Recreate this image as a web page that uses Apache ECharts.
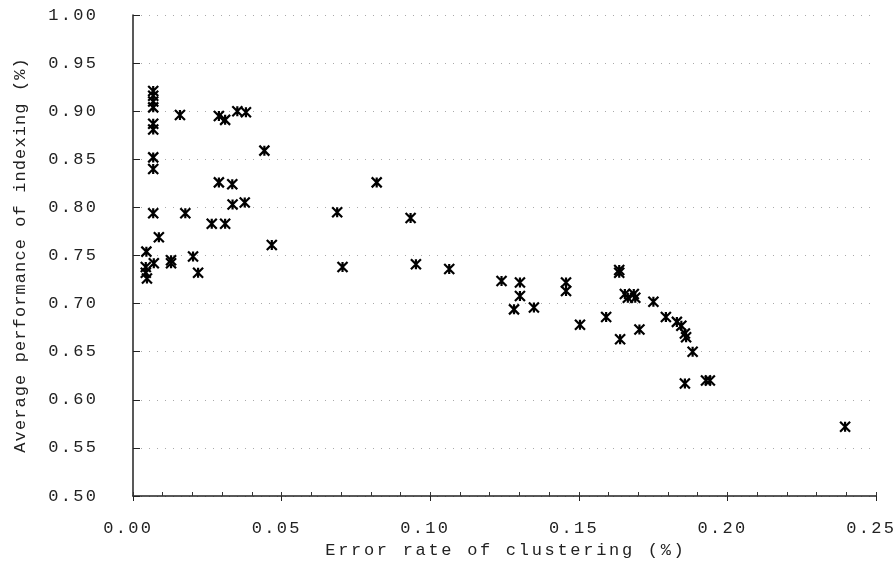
<!DOCTYPE html>
<html><head><meta charset="utf-8">
<script src="https://cdn.jsdelivr.net/npm/echarts@6/dist/echarts.min.js"></script>
<style>html,body{margin:0;padding:0;background:#fff}#c{width:893px;height:561px}</style>
</head><body><div id="c"></div>
<script>
const xTitle = 'Error rate of clustering (%)';
const yTitle = 'Average performance of indexing (%)';
const errorRate = [
 0.0068,0.0068,0.0068,0.0068,0.0068,0.0068,0.0068,0.0068,0.0068,0.0176,
 0.0158,0.0289,0.0310,0.0351,0.0380,0.0442,0.0289,0.0334,0.0335,0.0376,
 0.0265,0.0310,0.0087,0.0467,0.0045,0.0202,0.0128,0.0128,0.0070,0.0043,
 0.0043,0.0047,0.0219,0.0820,0.0687,0.0934,0.0705,0.0952,0.1064,0.1240,
 0.1302,0.1302,0.1282,0.1349,0.1457,0.1457,0.1504,0.1636,0.1636,0.1655,
 0.1685,0.1665,0.1690,0.1751,0.1592,0.1793,0.1830,0.1845,0.1857,0.1861,
 0.1883,0.1639,0.1704,0.1857,0.1928,0.1941,0.2396
];
const performance = [
 0.921,0.916,0.910,0.904,0.887,0.881,0.852,0.840,0.794,0.794,
 0.896,0.895,0.891,0.900,0.899,0.859,0.826,0.824,0.803,0.805,
 0.783,0.783,0.769,0.761,0.754,0.749,0.745,0.742,0.742,0.738,
 0.732,0.726,0.732,0.826,0.795,0.789,0.738,0.741,0.736,0.7235,
 0.722,0.708,0.694,0.696,0.722,0.713,0.678,0.735,0.732,0.710,
 0.710,0.706,0.706,0.702,0.686,0.686,0.681,0.677,0.669,0.665,
 0.650,0.663,0.673,0.617,0.620,0.620,0.572
];
const points = errorRate.map((x, i) => [x, performance[i]]);

function spaced(s, tag) { return s.split('').map(ch => '{' + tag + '|' + ch + '}').join(''); }
const font = 'Liberation Mono';
const richLab = { c: { fontFamily: font, fontSize: 17, color: '#222', width: 12.5, align: 'center' } };
const richXLab = { c: { fontFamily: font, fontSize: 17, color: '#222', width: 12.5, align: 'center' },
                   s: { fontFamily: font, fontSize: 17, width: 12 } };
const richX = { c: { fontFamily: font, fontSize: 17, color: '#222', width: 12.9, align: 'center' } };
const richY = { c: { fontFamily: font, fontSize: 17, color: '#222', width: 11.3, align: 'center' } };

const chart = echarts.init(document.getElementById('c'), null, { renderer: 'canvas' });
chart.setOption({
  animation: false,
  backgroundColor: '#fff',
  grid: { left: 133, right: 17, top: 15, bottom: 65, containLabel: false, outerBoundsMode: 'none' },
  xAxis: [{
    type: 'value', min: 0, max: 0.25, interval: 0.05,
    name: spaced(xTitle, 'c'), nameLocation: 'middle', nameGap: 39,
    nameTextStyle: { rich: richX },
    axisLine: { show: true, lineStyle: { color: '#222', width: 1.5 } },
    axisTick: { show: true, inside: false, length: 5, lineStyle: { color: '#222' } },
    axisLabel: { margin: 24, formatter: v => spaced(v.toFixed(2), 'c') + '{s| }', rich: richXLab },
    splitLine: { show: false }
  }, {
    type: 'value', min: 0, max: 0.25, interval: 0.01, position: 'bottom',
    axisLine: { show: false },
    axisTick: { show: true, inside: true, length: 4, lineStyle: { color: '#333' } },
    axisLabel: { show: false },
    splitLine: { show: false }
  }],
  yAxis: {
    type: 'value', min: 0.5, max: 1.0, interval: 0.05,
    name: spaced(yTitle, 'c'), nameLocation: 'middle', nameGap: 104, nameRotate: 90,
    nameTextStyle: { rich: richY },
    axisLine: { show: true, lineStyle: { color: '#222', width: 1.5 } },
    axisTick: { show: true, inside: true, length: 7, lineStyle: { color: '#222' } },
    axisLabel: { margin: 36, formatter: v => spaced(v.toFixed(2), 'c'), rich: richLab },
    splitLine: { show: true, lineStyle: { color: '#aaa', width: 1, type: [1, 7] } }
  },
  series: [{
    type: 'scatter',
    data: points,
    symbol: 'path://M0,0L10,10M10,0L0,10M5,0L5,10',
    symbolSize: 10,
    itemStyle: { color: '#000', borderColor: '#000', borderWidth: 2.2, opacity: 1 }
  }]
});
</script></body></html>
